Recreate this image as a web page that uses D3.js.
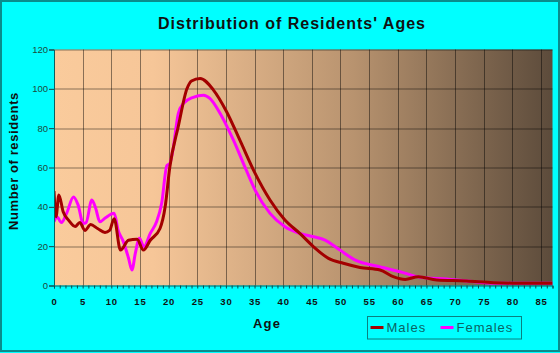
<!DOCTYPE html>
<html>
<head>
<meta charset="utf-8">
<script src="https://cdn.jsdelivr.net/npm/d3@7"></script>
<style>
  html, body { margin: 0; padding: 0; background: #00ffff; }
  svg { display: block; }
  text { font-family: Arial, "Liberation Sans", sans-serif; }
</style>
</head>
<body>
<svg id="chart"></svg>
<script>
// Values
const maleAges = [0, 0.35, 0.85, 1.6, 2.6, 3.7, 4.5, 5.4, 6.4, 7.6, 8.9, 9.7, 10.5, 11.6, 13, 14.5, 15.6, 16.8, 18.5, 19.4, 20.2, 21.7, 23.2, 24, 25.5, 27.8, 30.1, 32.5, 35.1, 37.7, 40.3, 42.9, 45.3, 47.9, 50.5, 53.4, 56.9, 59.2, 61.3, 63.6, 66.8, 72, 76.7, 80, 87];
const maleCounts = [48, 35, 46, 37.5, 33, 30, 32, 28, 31, 29, 27, 28, 34, 18, 23, 23.5, 18, 23, 29, 40, 60, 81, 100, 104, 105.3, 99.5, 88.5, 73.5, 57, 43.5, 33.3, 26.5, 19.7, 13.8, 11.3, 9.2, 7.9, 4.5, 3.1, 4.5, 2.8, 2.3, 1.4, 1.2, 1.2];

const femaleAges = [0, 0.5, 1.3, 2.2, 3.4, 4.2, 5.1, 5.6, 6.6, 7.3, 8.0, 9.0, 10.5, 11.2, 12.1, 13.0, 13.6, 14.2, 14.9, 15.7, 16.8, 17.9, 18.8, 19.7, 20.2, 20.7, 21.7, 22.6, 24.3, 26.1, 27.2, 29, 31.3, 33.5, 35.1, 37.7, 40.3, 42.9, 45.3, 47.3, 49.9, 52.8, 56.3, 60.4, 63.9, 68.5, 72, 77.3, 87];
const femaleCounts = [32.5, 35, 32, 36.7, 45, 41, 31.6, 32, 43.5, 39, 32.4, 34.5, 36.7, 28, 22.3, 14, 7.9, 16.5, 24, 19.7, 26.5, 32.4, 42, 61, 62, 68, 87.5, 92.6, 95.7, 96.8, 95.2, 87.5, 74, 59, 48.5, 36.7, 29.9, 26.5, 24.8, 23.1, 18, 12.6, 9.9, 7, 4.2, 3.3, 2.3, 1.1, 1.1];

const xTickLabels = d3.range(0, 86, 5);
const yTickLabels = [0, 20, 40, 60, 80, 100, 120];
const seriesNames = ["Males", "Females"];
const seriesColors = ["#a30000", "#ff00ff"];

const width = 560, height = 353;
const margin = { top: 49.5, right: 7.5, bottom: 67.5, left: 54 };
const innerW = width - margin.left - margin.right;
const innerH = height - margin.top - margin.bottom;

const svg = d3.select('#chart')
  .attr('width', width)
  .attr('height', height);

// outer frame
svg.append('rect')
  .attr('x', 1).attr('y', 1)
  .attr('width', width - 2).attr('height', height - 3)
  .attr('fill', '#00ffff')
  .attr('stroke', '#0a8c8c')
  .attr('stroke-width', 2);

const defs = svg.append('defs');
const grad = defs.append('linearGradient')
  .attr('id', 'bg')
  .attr('x1', '0%').attr('x2', '100%')
  .attr('y1', '0%').attr('y2', '0%');
[[0, '#facb9c'], [0.2, '#f6c698'], [0.6, '#b8936f'], [1, '#5c4b3b']].forEach(s => {
  grad.append('stop').attr('offset', s[0]).attr('stop-color', s[1]);
});
defs.append('clipPath').attr('id', 'clip')
  .append('rect').attr('width', innerW).attr('height', innerH);

const g = svg.append('g')
  .attr('transform', `translate(${margin.left},${margin.top})`);

const x = d3.scaleLinear().domain([0, 87]).range([0, innerW]);
const y = d3.scaleLinear().domain([0, 120]).range([innerH, 0]);

g.append('rect')
  .attr('width', innerW)
  .attr('height', innerH)
  .attr('fill', 'url(#bg)');

// grid
g.append('g')
  .selectAll('line')
  .data(xTickLabels.filter(d => d > 0))
  .join('line')
  .attr('x1', d => Math.round(x(d)) + 0.5).attr('x2', d => Math.round(x(d)) + 0.5)
  .attr('y1', 0).attr('y2', innerH)
  .attr('stroke', '#000').attr('stroke-opacity', 0.45);

g.append('g')
  .selectAll('line')
  .data(yTickLabels.filter(d => d > 0))
  .join('line')
  .attr('x1', 0).attr('x2', innerW)
  .attr('y1', d => Math.round(y(d)) + 0.5).attr('y2', d => Math.round(y(d)) + 0.5)
  .attr('stroke', '#000').attr('stroke-opacity', 0.45);

// lines
const line = d3.line()
  .x(d => x(d[0]))
  .y(d => y(d[1]))
  .curve(d3.curveMonotoneX);

const series = [
  d3.zip(femaleAges, femaleCounts),
  d3.zip(maleAges, maleCounts)
];
const lineColors = [seriesColors[1], seriesColors[0]];

g.append('g')
  .attr('clip-path', 'url(#clip)')
  .selectAll('path')
  .data(series)
  .join('path')
  .attr('d', line)
  .attr('fill', 'none')
  .attr('stroke', (d, i) => lineColors[i])
  .attr('stroke-width', 3)
  .attr('stroke-linejoin', 'round');

// x axis: minor ticks every year, labels every 5
const xMinor = g.append('g')
  .attr('transform', `translate(0,${innerH})`)
  .call(d3.axisBottom(x).tickValues(d3.range(0, 88, 1)).tickSize(3).tickFormat(''));
xMinor.select('.domain').attr('stroke', '#0a6060');
xMinor.selectAll('.tick line').attr('stroke', '#0a4a4a');

const xAxis = g.append('g')
  .attr('transform', `translate(0,${innerH})`)
  .call(d3.axisBottom(x).tickValues(xTickLabels).tickSize(0).tickPadding(13));
xAxis.select('.domain').remove();
xAxis.selectAll('text')
  .attr('font-size', '9.5px')
  .attr('font-weight', 'bold')
  .attr('letter-spacing', '0.8px')
  .attr('fill', '#111');

const yAxis = g.append('g')
  .call(d3.axisLeft(y).tickValues(yTickLabels).tickSize(5).tickPadding(1));
yAxis.select('.domain').attr('stroke', '#0a6060');
yAxis.selectAll('.tick line').attr('stroke', '#1a4040');
yAxis.selectAll('text')
  .attr('font-size', '9.5px')
  .attr('fill', '#1e4a3a');

// titles
svg.append('text')
  .attr('x', 292).attr('y', 29)
  .attr('text-anchor', 'middle')
  .attr('font-size', '16px')
  .attr('font-weight', 'bold')
  .attr('letter-spacing', '1px')
  .attr('fill', '#111')
  .text("Distribution of Residents' Ages");

svg.append('text')
  .attr('transform', 'translate(18,161) rotate(-90)')
  .attr('text-anchor', 'middle')
  .attr('font-size', '13px')
  .attr('font-weight', 'bold')
  .attr('letter-spacing', '0.6px')
  .attr('fill', '#111')
  .text('Number of residents');

svg.append('text')
  .attr('x', 267).attr('y', 328)
  .attr('text-anchor', 'middle')
  .attr('font-size', '13px')
  .attr('font-weight', 'bold')
  .attr('letter-spacing', '1.2px')
  .attr('fill', '#111')
  .text('Age');

// legend
const legend = svg.append('g').attr('transform', 'translate(367.5,316.5)');
legend.append('rect')
  .attr('width', 154).attr('height', 22.5)
  .attr('fill', 'none')
  .attr('stroke', '#0a8080');
const items = legend.selectAll('g.item')
  .data(seriesNames)
  .join('g')
  .attr('class', 'item')
  .attr('transform', (d, i) => `translate(${i === 0 ? 3 : 73},0)`);
items.append('line')
  .attr('x1', 0).attr('x2', 13)
  .attr('y1', 11).attr('y2', 11)
  .attr('stroke', (d, i) => seriesColors[i])
  .attr('stroke-width', 3);
items.append('text')
  .attr('x', 16).attr('y', 15.5)
  .attr('font-size', '13px')
  .attr('letter-spacing', '1px')
  .attr('fill', '#0a6464')
  .text(d => d);
</script>
</body>
</html>
